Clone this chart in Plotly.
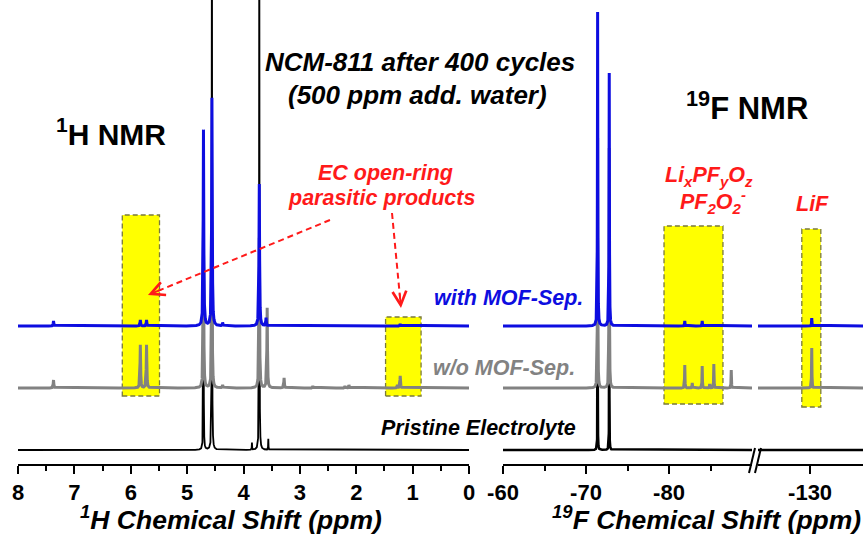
import numpy as np
import plotly.graph_objects as go

# ---------------- data ----------------
# 1H NMR peaks: chemical shift (ppm) and intensity (a.u.) above each trace baseline
h1_blue_ppm = [7.37, 5.83, 5.72, 4.71, 4.56, 4.37, 3.72, 3.60, 1.22]
h1_blue_int = [5, 6, 6, 196, 228, 3, 142, 8, 2]
h1_gray_ppm = [7.37, 5.83, 5.72, 4.71, 4.56, 4.37, 3.72, 3.58, 3.28, 2.77, 2.20, 2.13, 1.27, 1.22]
h1_gray_int = [8, 43, 43, 150, 150, 3, 150, 80, 10, 2, 2, 3, 3, 12]
h1_black_ppm = [4.71, 4.56, 3.85, 3.72, 3.56]
h1_black_int = [300, 600, 7, 600, 11]

# 19F NMR peaks (-60 ... -90 ppm window)
f_blue_ppm = [-71.4, -72.8, -81.9, -84.0]
f_blue_int = [314, 253, 5, 5]
f_gray_ppm = [-71.4, -72.8, -81.9, -82.8, -84.0, -84.9, -85.4, -87.5]
f_gray_int = [250, 240, 23, 5, 22, 4, 24, 18]
f_black_ppm = [-71.4, -72.8]
f_black_int = [200, 200]

# 19F NMR peaks (LiF window)
lif_blue_ppm = [-130.2]
lif_blue_int = [8]
lif_gray_ppm = [-130.2]
lif_gray_int = [40]

h1_ticks = [8, 7, 6, 5, 4, 3, 2, 1, 0]
f_ticks = [-60, -70, -80]
lif_ticks = [-130]

# ---------------- layout constants ----------------
W, H = 863, 540
AX_Y = 464  # pixel row of the x axes (bottom of plot area)
OFF_BLUE, OFF_GRAY, OFF_BLACK = 138, 76, 14

BLUE = "#0d0de0"
GRAY = "#828282"
RED = "#ff1a1a"
FONT = "Liberation Sans, Arial, sans-serif"


def spectrum(grid, ppm, inten, gamma, offset):
    y = np.zeros_like(grid)
    for p, a in zip(ppm, inten):
        y += a * gamma ** 2 / ((grid - p) ** 2 + gamma ** 2)
    return y + offset


gH = np.linspace(0, 8, 16001)
gF = np.linspace(-90, -60, 6001)
gL = np.linspace(-136.4, -123.7, 2541)

fig = go.Figure()


def add(x, y, color, width, xa):
    fig.add_trace(go.Scatter(x=x, y=y, mode="lines", xaxis=xa, yaxis="y",
                             line=dict(color=color, width=width),
                             hoverinfo="skip", showlegend=False))


# 1H panel
add(gH, spectrum(gH, h1_black_ppm, h1_black_int, 0.003, OFF_BLACK), "black", 1.8, "x")
add(gH, spectrum(gH, h1_gray_ppm, h1_gray_int, 0.006, OFF_GRAY), GRAY, 3, "x")
add(gH, spectrum(gH, h1_blue_ppm, h1_blue_int, 0.006, OFF_BLUE), BLUE, 3, "x")
# 19F panel
add(gF, spectrum(gF, f_black_ppm, f_black_int, 0.015, OFF_BLACK), "black", 2.5, "x2")
add(gF, spectrum(gF, f_gray_ppm, f_gray_int, 0.025, OFF_GRAY), GRAY, 3, "x2")
add(gF, spectrum(gF, f_blue_ppm, f_blue_int, 0.025, OFF_BLUE), BLUE, 3, "x2")
# LiF panel
add(gL, spectrum(gL, [], [], 0.025, OFF_BLACK), "black", 2.5, "x3")
add(gL, spectrum(gL, lif_gray_ppm, lif_gray_int, 0.025, OFF_GRAY), GRAY, 3, "x3")
add(gL, spectrum(gL, lif_blue_ppm, lif_blue_int, 0.025, OFF_BLUE), BLUE, 3, "x3")


def px(x):
    return x / W


def py(y):
    return (AX_Y - y) / AX_Y


axis_common = dict(anchor="y", showline=True, linewidth=2, linecolor="black",
                   ticks="outside", ticklen=8, tickwidth=2, tickcolor="black",
                   showgrid=False, zeroline=False, automargin=False,
                   tickfont=dict(family=FONT, size=22, color="black", weight="bold"))

fig.update_layout(
    width=W, height=H,
    margin=dict(l=0, r=0, t=0, b=H - AX_Y, autoexpand=False),
    paper_bgcolor="white", plot_bgcolor="white",
    xaxis=dict(domain=[px(18), px(469)], range=[8, 0], tickvals=h1_ticks,
               ticktext=[str(t) for t in h1_ticks],
               minor=dict(tickvals=[7.5, 6.5, 5.5, 4.5, 3.5, 2.5, 1.5, 0.5], ticklen=5,
                          tickwidth=2, tickcolor="black", ticks="outside"),
               **axis_common),
    xaxis2=dict(domain=[px(503), px(752)], range=[-60, -90], tickvals=f_ticks,
                ticktext=[str(t) for t in f_ticks],
                minor=dict(tickvals=[-65, -75, -85], ticklen=5, tickwidth=2,
                           tickcolor="black", ticks="outside"),
                **axis_common),
    xaxis3=dict(domain=[px(758), 1.0], range=[-123.7, -136.4], tickvals=lif_ticks,
                ticktext=[str(t) for t in lif_ticks], **axis_common),
    yaxis=dict(domain=[0, 1], range=[0, AX_Y], visible=False, fixedrange=True),
)

# yellow highlight boxes
box_style = dict(type="rect", fillcolor="#ffff00", layer="below",
                 line=dict(color="#7a7a3c", width=1.3, dash="5px,3px"))
fig.add_shape(xref="x", yref="y", x0=6.15, x1=5.49, y0=AX_Y - 396, y1=AX_Y - 215, **box_style)
fig.add_shape(xref="x", yref="y", x0=1.48, x1=0.85, y0=AX_Y - 396, y1=AX_Y - 317, **box_style)
fig.add_shape(xref="x2", yref="y", x0=-79.4, x1=-86.5, y0=AX_Y - 404, y1=AX_Y - 226, **box_style)
fig.add_shape(xref="x3", yref="y", x0=-129.0, x1=-131.3, y0=AX_Y - 407, y1=AX_Y - 229, **box_style)

# axis break marks
for x0 in (749, 755):
    fig.add_shape(type="line", xref="paper", yref="paper", x0=px(x0), y0=py(473),
                  x1=px(x0 + 6), y1=py(448), line=dict(color="black", width=2))

# red dashed arrows
arrows = [((330, 220), (148, 295)), ((392, 213), (401, 308))]
for (tx, ty), (hx, hy) in arrows:
    dx, dy = hx - tx, hy - ty
    L = (dx ** 2 + dy ** 2) ** 0.5
    ux, uy = dx / L, dy / L
    ex, ey = hx - ux * 6, hy - uy * 6
    fig.add_shape(type="line", xref="paper", yref="paper", x0=px(tx), y0=py(ty),
                  x1=px(ex), y1=py(ey), line=dict(color=RED, width=2, dash="6px,4px"))
    fig.add_annotation(x=px(hx), y=py(hy), xref="paper", yref="paper", text="",
                       showarrow=True, arrowhead=5, arrowsize=1.5, arrowwidth=1.8,
                       arrowcolor=RED, ax=-ux * 16, ay=-uy * 16, standoff=0)


def label(text, x, y, size, color="black"):
    fig.add_annotation(x=px(x), y=py(y), xref="paper", yref="paper", text=text,
                       showarrow=False, xanchor="center", yanchor="middle",
                       font=dict(family=FONT, size=size, color=color))


label("<b><i>NCM-811 after 400 cycles</i></b>", 420, 62, 26)
label("<b><i>(500 ppm add. water)</i></b>", 417, 95, 26)
label("<b><sup>1</sup>H NMR</b>", 111, 132, 30)
label("<b><sup>19</sup>F NMR</b>", 747, 106, 31)
label("<b><i>EC open-ring</i></b>", 385, 173, 21.5, RED)
label("<b><i>parasitic products</i></b>", 381, 198, 21.5, RED)
label("<b><i>Li<sub>x</sub>PF<sub>y</sub>O<sub>z</sub></i></b>", 709, 176, 21.5, RED)
label("<b><i>PF<sub>2</sub>O<sub>2</sub><sup>-</sup></i></b>", 713, 201, 21.5, RED)
label("<b><i>LiF</i></b>", 812, 204, 21.5, RED)
label("<b><i>with MOF-Sep.</i></b>", 508, 298, 21.5, BLUE)
label("<b><i>w/o MOF-Sep.</i></b>", 504, 368, 21.5, GRAY)
label("<b><i>Pristine Electrolyte</i></b>", 478, 428, 21.5, "black")
label("<b><i><sup>1</sup>H Chemical Shift (ppm)</i></b>", 231, 518, 26.5)
label("<b><i><sup>19</sup>F Chemical Shift (ppm)</i></b>", 706, 518, 26.5)

fig.write_html("out.html", config={"displayModeBar": False},
               post_script="document.body.style.margin='0';")
